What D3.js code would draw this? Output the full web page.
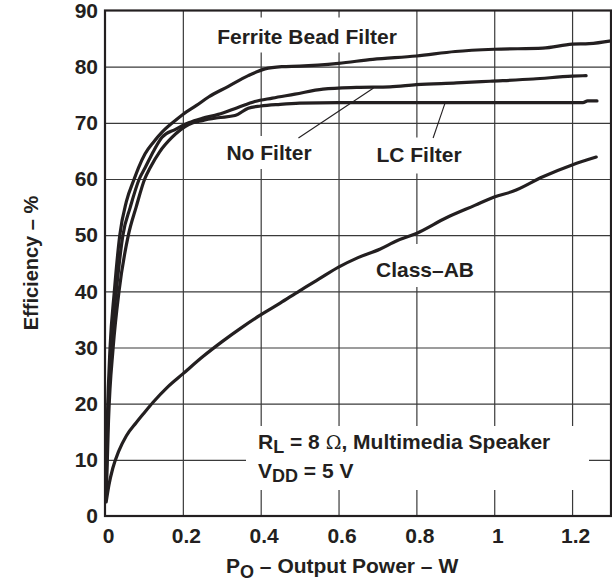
<!DOCTYPE html>
<html><head><meta charset="utf-8">
<script src="https://cdn.jsdelivr.net/npm/d3@7"></script>
<style>
body{margin:0;background:#fff}
svg{display:block}
text{font-family:"Liberation Sans",Arial,sans-serif;font-weight:bold;fill:#231f20;font-size:21px}
</style>
</head><body>
<svg id="c" width="612" height="583"></svg>
<script>
// ---- data ----
const xTicks = [0, 0.2, 0.4, 0.6, 0.8, 1, 1.2];
const xTickLabels = ["0", "0.2", "0.4", "0.6", "0.8", "1", "1.2"];
const yTicks = [0, 10, 20, 30, 40, 50, 60, 70, 80, 90];
const yTickLabels = ["0", "10", "20", "30", "40", "50", "60", "70", "80", "90"];

const ferriteX = [0.002,0.006,0.013,0.024,0.038,0.055,0.075,0.086,0.103,0.125,0.146,0.175,0.2,0.235,0.266,0.317,0.368,0.411,0.454,0.5,0.6,0.688,0.8,0.9,1.0,1.125,1.2,1.244,1.3];
const ferriteY = [3,17,30,40,50,56,60,62,64.5,66.6,68.3,70.1,71.5,73.1,74.6,76.5,78.4,79.6,80,80.1,80.6,81.3,81.9,82.7,83.1,83.3,84,84.1,84.6];

const noFilterX = [0.002,0.007,0.016,0.029,0.046,0.065,0.088,0.103,0.125,0.146,0.18,0.215,0.25,0.291,0.34,0.385,0.43,0.488,0.56,0.646,0.732,0.8,0.903,0.989,1.1,1.2,1.236];
const noFilterY = [3,17,30,40,50,55,60,62,65,67.4,68.8,70,70.8,71.5,72.7,73.8,74.4,75.1,76,76.3,76.4,76.8,77.1,77.4,77.8,78.3,78.4];

const lcX = [0.003,0.009,0.021,0.036,0.06,0.08,0.102,0.116,0.14,0.172,0.215,0.25,0.29,0.334,0.368,0.4,0.45,0.5,0.6,0.8,1.0,1.228,1.24,1.264];
const lcY = [3,17,30,40,50,55,60,62,64.8,67.4,69.7,70.4,70.9,71.3,72.6,73.0,73.3,73.5,73.6,73.6,73.6,73.6,73.9,73.9];

const classABX = [0.003,0.01,0.02,0.035,0.055,0.08,0.1,0.123,0.16,0.2,0.25,0.3,0.35,0.4,0.45,0.5,0.55,0.6,0.65,0.706,0.75,0.8,0.877,0.95,1.0,1.048,1.125,1.2,1.262];
const classABY = [2.5,5.5,8.5,11.5,14.3,16.6,18.3,20.2,22.9,25.3,28.3,31,33.5,35.8,37.9,40.1,42.2,44.3,46,47.5,49,50.3,53.1,55.3,56.8,57.8,60.4,62.5,63.9];

// leader lines [x0,y0,x1,y1] in data units
const noFilterLeader = [0.69, 76.2, 0.497, 67.3];
const lcLeader = [0.874, 73.6, 0.843, 67.3];

// ---- chart ----
const svg = d3.select("#c");
const L = 105, R = 611, T = 10.5, B = 516;
const x = d3.scaleLinear().domain([0, 1.3]).range([L, R]);
const y = d3.scaleLinear().domain([0, 90]).range([B, T]);
const ink = "#231f20";

// grid
svg.append("g").attr("transform", `translate(0,${B})`)
  .call(d3.axisBottom(x).tickValues(xTicks.slice(1)).tickSize(-(B - T)).tickFormat(""))
  .call(g => g.select(".domain").remove())
  .call(g => g.selectAll("line").attr("stroke", "#3a3a3a").attr("stroke-width", 1.2));
svg.append("g").attr("transform", `translate(${L},0)`)
  .call(d3.axisLeft(y).tickValues(yTicks.slice(1, -1)).tickSize(-(R - L)).tickFormat(""))
  .call(g => g.select(".domain").remove())
  .call(g => g.selectAll("line").attr("stroke", "#3a3a3a").attr("stroke-width", 1.2));

// white boxes behind labels
const boxes = svg.append("g");
const labels = svg.append("g");

function label(txt, cx, by, pad) {
  const t = labels.append("text").attr("x", cx).attr("y", by).attr("text-anchor", "middle").text(txt);
  const bb = t.node().getBBox();
  boxes.append("rect").attr("x", bb.x - pad[0]).attr("y", bb.y - pad[1])
    .attr("width", bb.width + 2 * pad[0]).attr("height", bb.height + pad[1] + pad[2]).attr("fill", "#fff");
}
label("Ferrite Bead Filter", 307, 43.5, [10, 7, 5]);
label("No Filter", 269, 160, [8, 5, 5]);
label("LC Filter", 419, 161.5, [8, 5, 8]);
label("Class–AB", 425, 277, [8, 14, 6]);

// condition annotation
boxes.append("rect").attr("x", 246).attr("y", 426).attr("width", 343).attr("height", 64).attr("fill", "#fff");
const a1 = labels.append("text").attr("x", 258).attr("y", 449);
a1.append("tspan").text("R");
a1.append("tspan").attr("font-size", 18).attr("dy", 4).text("L");
a1.append("tspan").attr("dy", -4).text(" = 8 ");
a1.append("tspan").attr("font-weight", "normal").attr("font-family", "DejaVu Serif").attr("font-size", 19).text("Ω");
a1.append("tspan").text(", Multimedia Speaker");
const a2 = labels.append("text").attr("x", 258).attr("y", 478);
a2.append("tspan").text("V");
a2.append("tspan").attr("font-size", 18).attr("dy", 4).text("DD");
a2.append("tspan").attr("dy", -4).text(" = 5 V");

// curves
const line = d3.line().x(d => x(d[0])).y(d => y(d[1])).curve(d3.curveMonotoneX);
const series = [[ferriteX, ferriteY], [noFilterX, noFilterY], [lcX, lcY], [classABX, classABY]];
svg.append("g").selectAll("path").data(series).join("path")
  .attr("d", s => line(s[0].map((v, i) => [v, s[1][i]])))
  .attr("fill", "none").attr("stroke", ink).attr("stroke-width", 3.2)
  .attr("stroke-linejoin", "round").attr("stroke-linecap", "round");

// leaders
svg.append("g").selectAll("line").data([noFilterLeader, lcLeader]).join("line")
  .attr("x1", d => x(d[0])).attr("y1", d => y(d[1])).attr("x2", d => x(d[2])).attr("y2", d => y(d[3]))
  .attr("stroke", ink).attr("stroke-width", 1.1);

svg.node().appendChild(labels.node());

// frame
svg.append("rect").attr("x", L).attr("y", T).attr("width", R - L).attr("height", B - T)
  .attr("fill", "none").attr("stroke", ink).attr("stroke-width", 2.2);

// tick labels
svg.append("g").attr("transform", `translate(0,${B})`)
  .call(d3.axisBottom(x).tickValues(xTicks).tickSize(0).tickPadding(8).tickFormat((d, i) => xTickLabels[i]))
  .call(g => g.select(".domain").remove())
  .call(g => g.selectAll("text").attr("dx", 3).attr("dy", "0.92em").style("font-size", "21px").attr("fill", ink));
svg.append("g").attr("transform", `translate(${L},0)`)
  .call(d3.axisLeft(y).tickValues(yTicks).tickSize(0).tickPadding(7).tickFormat((d, i) => yTickLabels[i]))
  .call(g => g.select(".domain").remove())
  .call(g => g.selectAll("text").style("font-size", "21px").attr("fill", ink));
svg.selectAll(".tick text").style("font-family", "'Liberation Sans', Arial, sans-serif").style("font-weight", "bold");

// axis titles
const xt = svg.append("text").attr("x", 226).attr("y", 573);
xt.append("tspan").text("P");
xt.append("tspan").attr("font-size", 18).attr("dy", 5).text("O");
xt.append("tspan").attr("dy", -5).text(" – Output Power – W");
svg.append("text").attr("transform", "translate(38,263) rotate(-90)").attr("text-anchor", "middle")
  .style("font-size", "20px").text("Efficiency – %");
</script>
</body></html>
